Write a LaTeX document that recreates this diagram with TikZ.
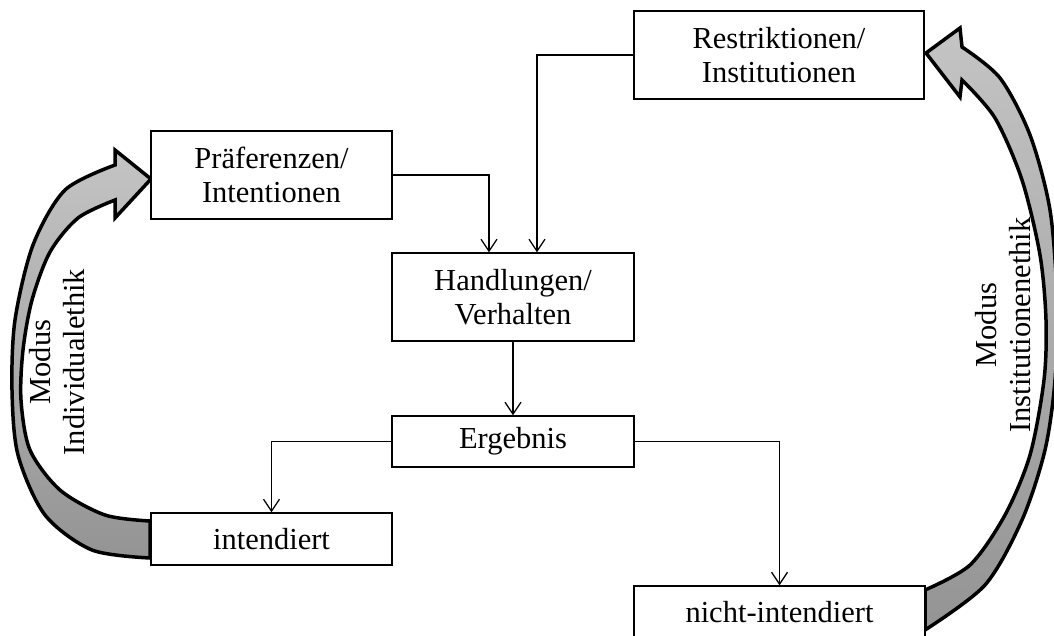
\documentclass[tikz,border=0pt]{standalone}
\usepackage{fontspec}
\setmainfont{Liberation Serif}
\usetikzlibrary{arrows.meta}
\definecolor{headgray}{HTML}{C4C4C4}
\definecolor{tailgray}{HTML}{949494}
\tikzset{
  box/.style={draw, line width=1.3pt, fill=white, align=center, inner sep=0pt,
    font=\fontsize{30.5}{34}\selectfont},
  conn/.style={line width=1.3pt, -{Straight Barb[length=12pt,width=16pt,line width=1.3pt]}},
  bigarrow/.style={draw=black, line width=3.5pt, line join=miter, miter limit=10,
    top color=headgray, bottom color=tailgray},
  modlabel/.style={rotate=90, align=center, font=\fontsize{30.5}{34}\selectfont}
}
\begin{document}
\begin{tikzpicture}[x=1pt,y=-1pt]
\useasboundingbox (0,0) rectangle (1054,635);
% big curved arrows
\draw[bigarrow] plot[smooth] coordinates {(150,521) (105,515) (60,490) (30,450) (21,400) (23,350) (32,300) (50,252) (78,218) (115,200)}
  -- (115,218) -- (151,179) -- (115,150)
  -- plot[smooth] coordinates {(115,165) (65,190) (33,245) (15,320) (12,390) (18,455) (45,515) (92,550) (150,558)} -- cycle;
\draw[bigarrow] plot[smooth] coordinates {(925,590) (970,565) (1005,515) (1030,455) (1044,380) (1046,320) (1040,255) (1022,180) (995,118) (962,80)}
  -- (960,97) -- (926,53) -- (960,28)
  -- plot[smooth] coordinates {(962,47) (1000,78) (1030,135) (1050,210) (1057,300) (1055,380) (1045,450) (1022,520) (985,585) (925,630)} -- cycle;
% boxes
\node[box, minimum width=290pt, minimum height=88pt] (R) at (779,55) {Restriktionen/\\Institutionen};
\node[box, minimum width=241pt, minimum height=88pt] (P) at (271.5,175) {Präferenzen/\\Intentionen};
\node[box, minimum width=242pt, minimum height=88pt] (H) at (513,297) {Handlungen/\\Verhalten};
\node[box, minimum width=242pt, minimum height=51pt] (E) at (513,441.5) {Ergebnis};
\node[box, minimum width=241pt, minimum height=52pt] (I) at (271.5,539) {intendiert};
\node[box, minimum width=291pt, minimum height=52pt] (N) at (779.5,612) {nicht-intendiert};
% connectors
\draw[conn] (P.east) -| ([xshift=-24pt]H.north);
\draw[conn] (R.west) -| ([xshift=24pt]H.north);
\draw[conn] (H.south) -- (E.north);
\draw[conn] (E.west) -| (I.north);
\draw[conn] (E.east) -| (N.north);
% labels
\node[modlabel] (LL) at (57,362) {Modus\\Individualethik};
\node[modlabel] (RL) at (1003,325) {Modus\\Institutionenethik};
\end{tikzpicture}
\end{document}
